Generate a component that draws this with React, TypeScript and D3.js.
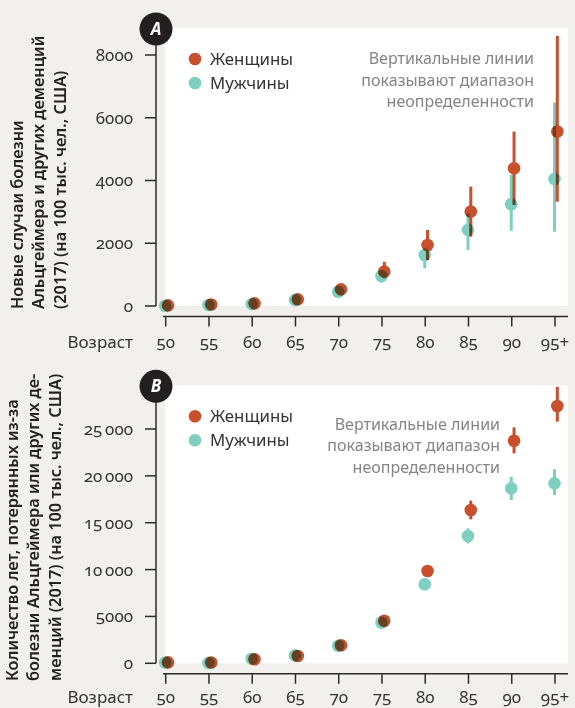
import React from "react";
import * as d3 from "d3";

const ages = ["50", "55", "60", "65", "70", "75", "80", "85", "90", "95+"];

// Panel A: new cases per 100k
const womenA = [20, 50, 85, 210, 530, 1095, 1945, 3010, 4390, 5560];
const womenALow = [null, null, null, null, null, 885, 1465, 2210, 3220, 3325];
const womenAHigh = [null, null, null, null, null, 1410, 2425, 3805, 5560, 8610];
const menA = [10, 30, 60, 190, 455, 955, 1625, 2425, 3245, 4050];
const menALow = [null, null, null, null, null, 745, 1200, 1785, 2400, 2370];
const menAHigh = [null, null, null, null, null, 1040, 1840, 2955, 4180, 6485];
const ticksA = [0, 2000, 4000, 6000, 8000];

// Panel B: years lost per 100k
const womenB = [100, 80, 430, 780, 1920, 4540, 9850, 16350, 23750, 27450];
const womenBLow = [null, null, null, null, null, null, null, 15360, 22400, 25780];
const womenBHigh = [null, null, null, null, null, null, null, 17350, 25180, 29500];
const menB = [80, 50, 490, 850, 1880, 4330, 8430, 13580, 18670, 19200];
const menBLow = [null, null, null, null, null, null, null, 12800, 17420, 17960];
const menBHigh = [null, null, null, null, null, null, null, 14400, 19900, 20700];
const ticksB = [0, 5000, 10000, 15000, 20000, 25000];

const titleA = ["Новые случаи болезни", "Альцгеймера и других деменций", "(2017) (на 100 тыс. чел., США)"];
const titleB = ["Количество лет, потерянных из-за", "болезни Альцгеймера или других де-", "менций (2017) (на 100 тыс. чел., США)"];
const legendLabels = ["Женщины", "Мужчины"];
const noteLines = ["Вертикальные линии", "показывают диапазон", "неопределенности"];

const ORANGE = "#c8502c";
const TEAL = "#7fcfc1";
const BG = "#f1f0ec";
const AXIS = "#2b2b2b";
const FONT = "'Noto Sans', 'Open Sans', sans-serif";

type PanelProps = {
  top: number;
  badge: string;
  women: number[];
  wLow: (number | null)[];
  wHigh: (number | null)[];
  men: number[];
  mLow: (number | null)[];
  mHigh: (number | null)[];
  ticks: number[];
  yMax: number;
  yTopPx: number;
  title: string[];
  titleX: number[];
  titleY: number;
  fmt: (v: number) => string;
  noteX: number;
  noteY: number;
  labelOffset: number;
};

function Panel(p: PanelProps) {
  const x = d3.scalePoint<string>().domain(ages).range([165.7, 555]);
  const zeroY = p.top;
  const y = d3.scaleLinear().domain([0, p.yMax]).range([zeroY, p.yTopPx]);
  const plotTop = p.top - 278;
  const axisY = zeroY + 10.5;
  const numStyle = { fontVariantNumeric: "oldstyle-nums" } as React.CSSProperties;
  return (
    <g>
      <rect x={165} y={plotTop} width={403} height={zeroY - plotTop} fill="#fff" />
      {/* y axis */}
      <line x1={156} x2={156} y1={plotTop} y2={zeroY} stroke={AXIS} strokeWidth={1.5} />
      {p.ticks.map((t) => (
        <g key={t}>
          <line x1={145} x2={156} y1={y(t)} y2={y(t)} stroke={AXIS} strokeWidth={1.5} />
          <text x={133} y={y(t)} dy="0.35em" textAnchor="end" fontSize={17} fill="#333" style={numStyle}>
            {p.fmt(t)}
          </text>
        </g>
      ))}
      {/* x axis */}
      <line x1={163} x2={568} y1={axisY} y2={axisY} stroke={AXIS} strokeWidth={1.5} />
      {ages.map((a) => (
        <g key={a}>
          <line x1={x(a)} x2={x(a)} y1={axisY} y2={axisY + 10} stroke={AXIS} strokeWidth={1.5} />
          <text x={x(a)} y={axisY + p.labelOffset} dy="0.35em" textAnchor="middle" fontSize={17} fill="#333" style={numStyle}>
            {a}
          </text>
        </g>
      ))}
      <text x={133} y={axisY + p.labelOffset} dy="0.35em" textAnchor="end" fontSize={17} fill="#333">Возраст</text>
      {/* title */}
      {p.title.map((line, i) => (
        <text key={i} transform={`translate(${p.titleX[i]},${p.titleY}) rotate(-90)`} dy="0.35em"
          fontSize={16.3} fontWeight={600} fill="#222">{line}</text>
      ))}
      {/* men */}
      {ages.map((a, i) => (
        <g key={"m" + a}>
          <circle cx={(x(a) as number) - 0.5} cy={y(p.men[i])} r={6.3} fill={TEAL} />
          {p.mLow[i] != null && (
            <line x1={(x(a) as number) - 0.5} x2={(x(a) as number) - 0.5} y1={y(p.mLow[i] as number)}
              y2={y(p.mHigh[i] as number)} stroke={TEAL} strokeWidth={3} />
          )}
        </g>
      ))}
      {/* women */}
      {ages.map((a, i) => (
        <g key={"w" + a} style={{ mixBlendMode: "multiply" }}>
          <circle cx={(x(a) as number) + 2.3} cy={y(p.women[i])} r={6.3} fill={ORANGE} />
          {p.wLow[i] != null && (
            <line x1={(x(a) as number) + 2.3} x2={(x(a) as number) + 2.3} y1={y(p.wLow[i] as number)}
              y2={y(p.wHigh[i] as number)} stroke={ORANGE} strokeWidth={3} />
          )}
        </g>
      ))}
      {/* legend */}
      {legendLabels.map((l, i) => (
        <g key={l}>
          <circle cx={195} cy={plotTop + 31 + i * 24} r={6.3} fill={i === 0 ? ORANGE : TEAL} />
          <text x={210} y={plotTop + 31 + i * 24} dy="0.35em" fontSize={16.8} fill="#333">{l}</text>
        </g>
      ))}
      {/* note */}
      {noteLines.map((l, i) => (
        <text key={l} x={p.noteX} y={p.noteY + i * 21.7} dy="0.35em" textAnchor="end" fontSize={16} fill="#858585">{l}</text>
      ))}
      {/* badge */}
      <circle cx={156} cy={plotTop + 1} r={16.5} fill="#231f20" />
      <text x={156} y={plotTop + 1} dy="0.36em" textAnchor="middle" fontSize={17} fontWeight={700}
        fontStyle="italic" fill="#fff">{p.badge}</text>
    </g>
  );
}

const fmtA = (v: number) => String(v);
const fmtB = (v: number) => (v >= 10000 ? d3.format(",")(v).replace(",", "\u2009") : String(v));

export default function App() {
  return (
    <svg width={575} height={708} style={{ position: "absolute", left: 0, top: 0, fontFamily: FONT }}>
      <rect width={575} height={708} fill={BG} />
      <Panel top={306} badge="A" women={womenA} wLow={womenALow} wHigh={womenAHigh}
        men={menA} mLow={menALow} mHigh={menAHigh} ticks={ticksA} yMax={8000} yTopPx={55}
        title={titleA} titleX={[17, 38.5, 60]} titleY={309}
        fmt={fmtA} noteX={534} noteY={58.3} labelOffset={25.5} />
      <Panel top={663.3} badge="B" women={womenB} wLow={womenBLow} wHigh={womenBHigh}
        men={menB} mLow={menBLow} mHigh={menBHigh} ticks={ticksB} yMax={25000} yTopPx={429}
        title={titleB} titleX={[12, 33.5, 55]} titleY={681}
        fmt={fmtB} noteX={500} noteY={424} labelOffset={23.5} />
    </svg>
  );
}
